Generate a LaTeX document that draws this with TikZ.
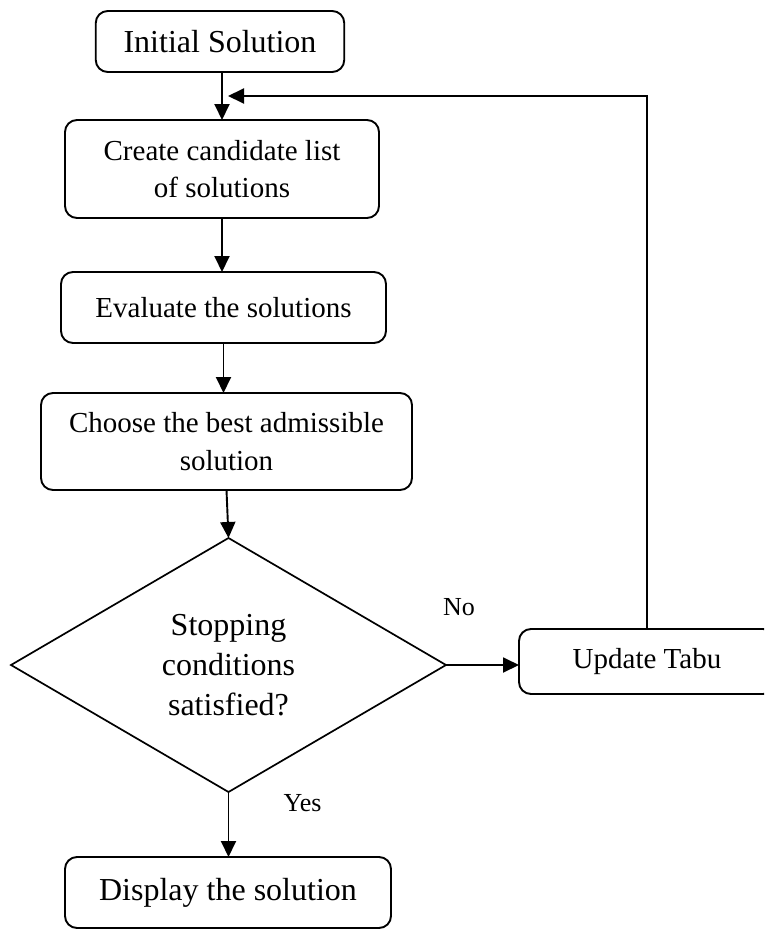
\documentclass[tikz,border=0pt]{standalone}
\usepackage{fontspec}
\setmainfont{Liberation Serif}
\usetikzlibrary{arrows.meta,shapes.geometric}

% text sizes used in the flowchart
\newcommand\largetext{\fontsize{32}{40}\selectfont}
\newcommand\boxtext{\fontsize{29}{37.5}\selectfont}
\newcommand\labeltext{\fontsize{26}{30}\selectfont}

\begin{document}
\begin{tikzpicture}[x=1pt, y=-1pt,
  every node/.style={inner sep=0pt, outer sep=0pt},
  stepbox/.style={draw, line width=1.9pt, rounded corners=12pt, align=center},
  decision/.style={draw, line width=1.7pt, diamond, align=center},
  flow/.style={line width=1.9pt, -{Triangle[length=16pt,width=15pt]}},
  tag/.style={font=\labeltext}]

\useasboundingbox (0,0) rectangle (764,929);
\clip (0,0) rectangle (764,929);

% process steps
\node[stepbox, minimum width=248.5pt, minimum height=61pt, font=\largetext]
  (init) at (220,41.5) {Initial Solution};
\node[stepbox, minimum width=314pt, minimum height=98pt, font=\boxtext]
  (create) at (222,169) {Create candidate list\\of solutions};
\node[stepbox, minimum width=325pt, minimum height=71pt, font=\boxtext]
  (eval) at (223.5,307.5) {Evaluate the solutions};
\node[stepbox, minimum width=371pt, minimum height=97pt, font=\boxtext]
  (choose) at (226.5,441.5) {Choose the best admissible\\solution};
\node[decision, minimum width=435pt, minimum height=254pt, font=\largetext]
  (dec) at (228.5,665) {Stopping\\conditions\\satisfied?};
\node[stepbox, minimum width=256pt, minimum height=65pt, font=\boxtext]
  (update) at (647,661.5) {Update Tabu};
\node[stepbox, minimum width=326pt, minimum height=71pt, font=\largetext]
  (display) at (228,892.5) {Display the solution};

% branch labels
\node[tag] (no) at (459,607) {No};
\node[tag] (yes) at (302.6,803) {Yes};

% connectors
\coordinate (join) at (228,96);
\draw[flow] (create.north |- init.south) -- (create.north);
\draw[flow] (create.south) -- (create.south |- eval.north);
\draw[flow] (eval.south) -- (eval.south |- choose.north);
\draw[flow] (choose.south) -- (dec.north);
\draw[flow] (dec.east) -- (dec.east -| update.west);
\draw[flow] (dec.south) -- (dec.south |- display.north);
\draw[flow] (update.north) |- (join);
\end{tikzpicture}
\end{document}
